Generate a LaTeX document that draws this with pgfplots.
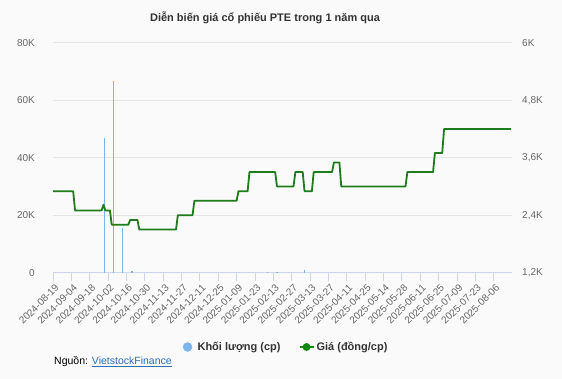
\documentclass[border=0pt]{standalone}
\usepackage{fontspec}
\setmainfont{Liberation Sans}
\usepackage{pgfplots}
\pgfplotsset{compat=1.18}
\definecolor{bg}{HTML}{FAFAFA}
\definecolor{vol}{HTML}{7CB5EC}
\definecolor{price}{HTML}{1E7B1E}
\definecolor{pricelg}{HTML}{118811}
\definecolor{gridc}{HTML}{E6E6E6}
\definecolor{axisc}{HTML}{CCD6EB}
\definecolor{lab}{HTML}{666666}
\definecolor{txt}{HTML}{333333}
\definecolor{link}{HTML}{2A6EBB}
\begin{document}
\begin{tikzpicture}
\fill[bg] (0,0) rectangle (562pt,-379pt);
\useasboundingbox (0,0) rectangle (562pt,-379pt);
\node[font=\bfseries\fontsize{11}{13}\selectfont, text=txt] at (265pt,-18pt) {Diễn biến giá cổ phiếu PTE trong 1 năm qua};
\begin{axis}[
 scale only axis, width=459pt, height=230pt, at={(53pt,-272.7pt)}, anchor=south west,
 xmin=0, xmax=250, ymin=0, ymax=80000,
 axis x line*=bottom, axis y line*=left,
 x axis line style={axisc, line width=0.8pt, -},
 y axis line style={draw=none},
 ytick={0,20000,40000,60000,80000}, yticklabels={0,20K,40K,60K,80K},
 ymajorgrids, grid style={gridc, line width=0.8pt},
 ytick style={draw=none},
 xtick={0,10,...,240},
 xticklabels={2024-08-19,2024-09-04,2024-09-18,2024-10-02,2024-10-16,2024-10-30,2024-11-13,2024-11-27,2024-12-11,2024-12-25,2025-01-09,2025-01-23,2025-02-13,2025-02-27,2025-03-13,2025-03-27,2025-04-11,2025-04-25,2025-05-14,2025-05-28,2025-06-11,2025-06-25,2025-07-09,2025-07-23,2025-08-06},
 tick align=outside, xtick style={axisc, line width=0.8pt},
 major tick length=8pt,
 xticklabel style={rotate=45, anchor=north east, font=\fontsize{10}{11}\selectfont, text=lab, inner sep=1pt, yshift=-2pt},
 yticklabel style={font=\fontsize{10}{12}\selectfont, text=lab, inner sep=0pt, xshift=-10pt},
 scaled y ticks=false,
 /pgf/number format/assume math mode=true,
]
\addplot[ycomb, vol, line width=1.3pt] coordinates {
 (28,46700) (33,66800) (38,15400) (43,500) (117,300) (122,300) (137,1000)
};
\end{axis}
\begin{axis}[
 scale only axis, width=459pt, height=230pt, at={(53pt,-272.7pt)}, anchor=south west,
 xmin=0, xmax=250, ymin=1200, ymax=6000,
 axis x line=none, xtick=\empty,
 axis y line*=right,
 y axis line style={draw=none},
 ytick={1200,2400,3600,4800,6000}, yticklabels={{1,2K},{2,4K},{3,6K},{4,8K},{6K}},
 ytick style={draw=none},
 yticklabel style={font=\fontsize{10}{12}\selectfont, text=lab, inner sep=0pt, xshift=10pt},
 scaled y ticks=false,
 /pgf/number format/assume math mode=true,
 legend style={at={(0.5,0)}, anchor=center, xshift=3pt, yshift=-74.3pt, draw=none, fill=none,
   font=\bfseries\fontsize{11}{13}\selectfont, text=txt,
   /tikz/every even column/.append style={column sep=16pt}},
 legend columns=2,
]
\addlegendimage{legend image code/.code={\path[draw=none, fill=none] (0pt,-4pt) rectangle (14pt,4pt); \fill[vol] (6pt,0pt) circle (4.5pt);}}
\addlegendentry{Khối lượng (cp)}
\addplot[price, line width=1.8pt, line join=round,
  legend image code/.code={\draw[pricelg, line width=2pt] (0pt,0pt)--(14pt,0pt); \fill[pricelg] (7pt,0pt) circle (3pt);}]
 coordinates {
 (0,2900) (11,2900) (12,2500) (26.5,2500) (27.5,2620) (28.5,2500) (31,2500) (32,2200)
 (41,2200) (42,2300) (46,2300) (47,2100) (67,2100) (68,2400) (76,2400) (77,2700)
 (100,2700) (101,2900) (106,2900) (107,3300) (121,3300) (122,3000) (131,3000) (132,3300)
 (136,3300) (137,2900) (141,2900) (142,3300) (152,3300) (153,3500) (156,3500) (157,3000)
 (192,3000) (193,3300) (207,3300) (208,3700) (212,3700) (213,4200) (249.5,4200)
};
\addlegendentry{Giá (đồng/cp)}
\end{axis}
\node[anchor=west, font=\fontsize{10.5}{12}\selectfont, inner sep=0pt] at (54pt,-361.7pt) {Nguồn: \textcolor{link}{\underline{VietstockFinance}}};
\end{tikzpicture}
\end{document}
